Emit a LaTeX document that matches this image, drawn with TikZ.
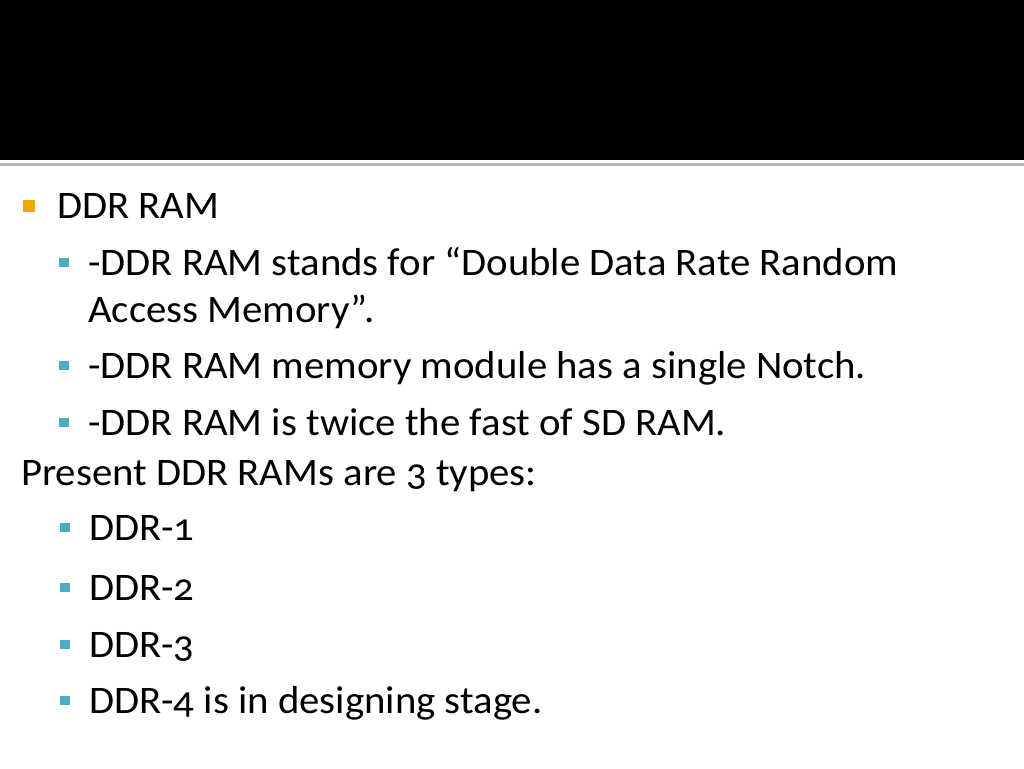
\documentclass[tikz,border=0pt]{standalone}
\usepackage{fontspec}
\setmainfont{Carlito}[Numbers=OldStyle,FakeStretch=1.045]
\definecolor{bulletorange}{HTML}{F0A800}
\definecolor{bulletblue}{HTML}{4BACC6}
\begin{document}
\begin{tikzpicture}[x=1pt,y=-1pt,
		slidetext/.style={anchor=base west,inner sep=0pt,font=\fontsize{39}{47}\selectfont},
		bulletone/.style={fill=bulletorange,minimum size=12pt,inner sep=0pt},
		bullettwo/.style={fill=bulletblue,minimum size=9.5pt,inner sep=0pt}]

		\useasboundingbox (0,0) rectangle (1024,768);

		% header band
		\fill	[black] (0,0) rectangle (1024,160);
		\draw	[gray!55,line width=3pt] (0,164.5) -- (1024,164.5);

		% text lines
		\node[slidetext]	(title)		at (57,218)	{DDR RAM};
		\node[slidetext]	(stands)	at (88,275)	{-DDR RAM stands for “Double Data Rate Random};
		\node[slidetext]	(access)	at (88,322)	{Access Memory”.};
		\node[slidetext]	(notch)		at (88,378)	{-DDR RAM memory module has a single Notch.};
		\node[slidetext]	(twice)		at (88,435)	{-DDR RAM is twice the fast of SD RAM.};
		\node[slidetext]	(present)	at (21,485)	{Present DDR RAMs are 3 types:};
		\node[slidetext]	(ddrone)	at (89,540)	{DDR-1};
		\node[slidetext]	(ddrtwo)	at (89,600)	{DDR-2};
		\node[slidetext]	(ddrthree)	at (89,657)	{DDR-3};
		\node[slidetext]	(ddrfour)	at (89,713)	{DDR-4 is in designing stage.};

		% bullets
		\node[bulletone]	(btitle)	at ([xshift=-28.5pt,yshift=12pt]title.base west) {};
		\foreach \line in {stands,notch,twice,ddrone,ddrtwo,ddrthree,ddrfour}
			\node[bullettwo] (b\line) at ([xshift=-24pt,yshift=12.5pt]\line.base west) {};
	\end{tikzpicture}
\end{document}
